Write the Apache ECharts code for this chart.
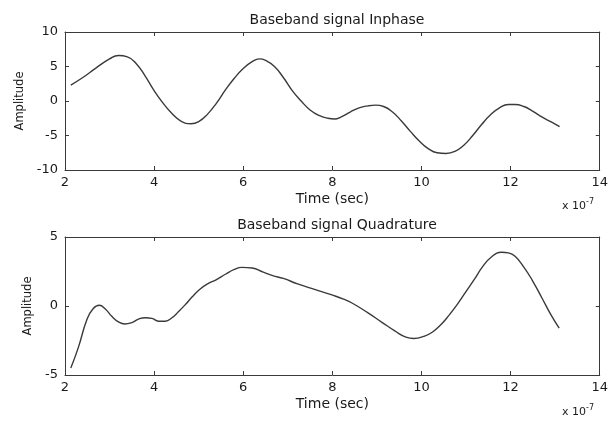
<!DOCTYPE html>
<html>
<head>
<meta charset="utf-8">
<script src="https://cdn.jsdelivr.net/npm/echarts@6/dist/echarts.min.js"></script>
<style>
html,body{margin:0;padding:0;background:#fff;}
#c{width:611px;height:421px;}
</style>
</head>
<body>
<div id="c"></div>
<script>
// Time in units of 1e-7 sec
const inphaseT = [2.13,2.4,2.7,3.0,3.2,3.4,3.6,3.8,4.0,4.2,4.4,4.6,4.83,5.0,5.2,5.4,5.6,5.8,6.0,6.2,6.36,6.5,6.7,6.9,7.1,7.3,7.5,7.7,7.9,8.05,8.2,8.4,8.6,8.8,8.97,9.15,9.35,9.55,9.75,9.95,10.15,10.35,10.55,10.75,10.95,11.15,11.35,11.55,11.75,11.95,12.1,12.3,12.5,12.7,12.9,13.1];
const inphaseV = [2.3,3.4,4.8,6.1,6.6,6.4,5.4,3.6,1.5,-0.3,-1.8,-2.9,-3.3,-3.0,-1.9,-0.3,1.6,3.3,4.7,5.7,6.1,5.9,5.0,3.4,1.5,0.0,-1.3,-2.1,-2.5,-2.6,-2.3,-1.6,-1.0,-0.7,-0.6,-0.8,-1.6,-2.9,-4.4,-5.8,-6.9,-7.5,-7.6,-7.3,-6.4,-5.0,-3.4,-2.0,-1.0,-0.5,-0.5,-0.8,-1.5,-2.3,-3.0,-3.7];
const quadT = [2.13,2.3,2.49,2.63,2.77,2.9,3.05,3.2,3.34,3.5,3.65,3.8,3.95,4.1,4.25,4.4,4.55,4.7,4.85,5.02,5.2,5.39,5.6,5.8,5.97,6.2,6.45,6.66,6.9,7.22,7.6,7.99,8.25,8.45,8.8,9.12,9.4,9.65,9.83,10.05,10.24,10.45,10.61,10.8,10.99,11.2,11.36,11.55,11.8,11.95,12.1,12.3,12.48,12.7,12.9,13.09];
const quadV = [-4.5,-3.0,-1.0,-0.2,0.05,-0.2,-0.75,-1.15,-1.3,-1.2,-0.95,-0.85,-0.9,-1.1,-1.1,-0.85,-0.4,0.1,0.65,1.2,1.6,1.9,2.3,2.65,2.8,2.75,2.45,2.2,2.0,1.6,1.2,0.8,0.5,0.2,-0.5,-1.2,-1.8,-2.25,-2.35,-2.2,-1.9,-1.3,-0.7,0.1,1.0,2.0,2.8,3.5,3.9,3.85,3.6,2.8,1.9,0.6,-0.6,-1.6];
const xTicks = [2,4,6,8,10,12,14];
const titles = ['Baseband signal Inphase','Baseband signal Quadrature'];
const xLabel = 'Time (sec)';
const yLabel = 'Amplitude';

const FONT = 'DejaVu Sans, sans-serif';
const AX = '#3a3a3a';
const TXT = '#1a1a1a';
const chart = echarts.init(document.getElementById('c'), null, {renderer:'canvas'});

function pairs(t, v){ return t.map((x,i)=>[x, v[i]]); }

const grids = [
  {left:65, right:10, top:32, height:138},
  {left:65, right:10, top:237, height:138}
];
const yRanges = [[-10,10,5],[-5,5,5]];
const yNameGaps = [37, 29];

const xAxes = [], yAxes = [];
[0,1].forEach(g=>{
  xAxes.push({
    type:'value', gridIndex:g, min:xTicks[0], max:xTicks[xTicks.length-1], interval:2, position:'bottom',
    name:xLabel, nameLocation:'middle', nameGap:22,
    nameTextStyle:{fontFamily:FONT,fontSize:14,color:TXT},
    axisLine:{show:true,onZero:false,lineStyle:{color:AX,width:1}},
    axisTick:{show:true,inside:true,length:4,lineStyle:{color:AX}},
    axisLabel:{fontFamily:FONT,fontSize:13,color:TXT,margin:6},
    splitLine:{show:false}
  });
  xAxes.push({
    type:'value', gridIndex:g, min:xTicks[0], max:xTicks[xTicks.length-1], interval:2, position:'top',
    axisLine:{show:true,onZero:false,lineStyle:{color:AX,width:1}},
    axisTick:{show:true,inside:true,length:4,lineStyle:{color:AX}},
    axisLabel:{show:false}, splitLine:{show:false}
  });
  const r = yRanges[g];
  yAxes.push({
    type:'value', gridIndex:g, min:r[0], max:r[1], interval:r[2], position:'left',
    name:yLabel, nameLocation:'middle', nameGap:yNameGaps[g],
    nameTextStyle:{fontFamily:FONT,fontSize:11.5,color:TXT},
    axisLine:{show:true,onZero:false,lineStyle:{color:AX,width:1}},
    axisTick:{show:true,inside:true,length:4,lineStyle:{color:AX}},
    axisLabel:{fontFamily:FONT,fontSize:13,color:TXT,margin:7},
    splitLine:{show:false}
  });
  yAxes.push({
    type:'value', gridIndex:g, min:r[0], max:r[1], interval:r[2], position:'right',
    axisLine:{show:true,onZero:false,lineStyle:{color:AX,width:1}},
    axisTick:{show:true,inside:true,length:4,lineStyle:{color:AX}},
    axisLabel:{show:false}, splitLine:{show:false}
  });
});

const lineStyle = {color:'#3a3a3a', width:1.4};
const sup = {text:'x 10{s|-7}', rich:{s:{fontSize:8,fontFamily:FONT,verticalAlign:'top',padding:[0,0,8,0]}}, fontFamily:FONT, fontSize:11, fill:TXT};
chart.setOption({
  backgroundColor:'#fff',
  animation:false,
  title:[
    {text:titles[0], left:332, top:8, textAlign:'center', textStyle:{fontFamily:FONT,fontSize:14,fontWeight:'normal',color:TXT}},
    {text:titles[1], left:332, top:213, textAlign:'center', textStyle:{fontFamily:FONT,fontSize:14,fontWeight:'normal',color:TXT}}
  ],
  grid:grids,
  xAxis:xAxes,
  yAxis:yAxes,
  series:[
    {type:'line', xAxisIndex:0, yAxisIndex:0, data:pairs(inphaseT,inphaseV), smooth:0.5, showSymbol:false, lineStyle:lineStyle},
    {type:'line', xAxisIndex:2, yAxisIndex:2, data:pairs(quadT,quadV), smooth:0.5, showSymbol:false, lineStyle:lineStyle}
  ],
  graphic:[
    {type:'text', left:562, top:198, style:sup},
    {type:'text', left:562, top:404, style:sup}
  ]
});
</script>
</body>
</html>
